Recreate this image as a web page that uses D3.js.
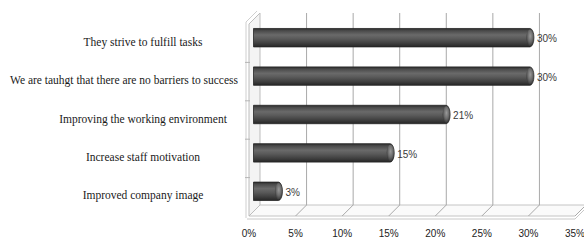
<!DOCTYPE html>
<html>
<head>
<meta charset="utf-8">
<script src="https://cdn.jsdelivr.net/npm/d3@7"></script>
<style>
  body { margin: 0; background: #fff; }
  svg { display: block; }
</style>
</head>
<body>
<div id="chart"></div>
<script>
const categories = [
  'They strive to fulfill tasks',
  'We are tauhgt that there are no barriers to success',
  'Improving the working environment',
  'Increase staff motivation',
  'Improved company image'
];

const values = [30, 30, 21, 15, 3];

const tickValues = [0, 5, 10, 15, 20, 25, 30, 35];

const width = 584, height = 241;
const depth = { dx: 11, dy: -11 }; // back wall offset from front edge

const x = d3.scaleLinear()
  .domain([0, 35])
  .range([249, 575]);

const y = d3.scaleBand()
  .domain(categories)
  .range([24, 216])
  .paddingInner(0.52)
  .paddingOuter(0.26);

const band = d3.scaleBand()
  .domain(categories)
  .range([24, 216]);

const floorY = 216;
const topY = 24;

const svg = d3.select('#chart').append('svg')
  .attr('width', width)
  .attr('height', height);

const defs = svg.append('defs');

const bodyGrad = defs.append('linearGradient')
  .attr('id', 'cyl')
  .attr('x1', 0).attr('y1', 0).attr('x2', 0).attr('y2', 1);
[[0, '#2b2b2b'], [0.12, '#4a4a4a'], [0.35, '#6a6a6a'], [0.55, '#5a5a5a'], [0.8, '#3f3f3f'], [1, '#262626']]
  .forEach(([o, c]) => bodyGrad.append('stop').attr('offset', o).attr('stop-color', c));

const capGrad = defs.append('radialGradient')
  .attr('id', 'cap')
  .attr('cx', 0.55).attr('cy', 0.4).attr('r', 0.6);
[[0, '#9a9a9a'], [0.6, '#6a6a6a'], [1, '#3a3a3a']]
  .forEach(([o, c]) => capGrad.append('stop').attr('offset', o).attr('stop-color', c));

const grid = svg.append('g').attr('class', 'walls');

// floor slab
const x0 = x(0), x1 = x(35);
grid.append('path')
  .attr('d', `M${x0},${floorY} L${x1},${floorY} L${x1 + depth.dx},${floorY + depth.dy} L${x0 + depth.dx},${floorY + depth.dy} Z`)
  .attr('fill', '#fafafa')
  .attr('stroke', '#c4c4c4');
grid.append('path')
  .attr('d', `M${x0 - 2},${floorY + 3} L${x1},${floorY + 3} L${x1 + depth.dx},${floorY + depth.dy + 3}`)
  .attr('fill', 'none')
  .attr('stroke', '#c8c8c8');

// left wall with thickness
grid.append('path')
  .attr('d', `M${x0},${floorY} L${x0},${topY} L${x0 + depth.dx},${topY + depth.dy} L${x0 + depth.dx},${floorY + depth.dy} Z`)
  .attr('fill', '#f4f4f4')
  .attr('stroke', '#bdbdbd');
grid.append('path')
  .attr('d', `M${x0 - 3},${floorY + 2} L${x0 - 3},${topY - 2} L${x0 + depth.dx - 3},${topY + depth.dy - 2}`)
  .attr('fill', 'none')
  .attr('stroke', '#cfcfcf');

// gridlines on back wall and floor
grid.selectAll('.gridline')
  .data(tickValues.slice(1))
  .join('path')
  .attr('class', 'gridline')
  .attr('d', v => `M${x(v)},${floorY} L${x(v) + depth.dx},${floorY + depth.dy} L${x(v) + depth.dx},${topY + depth.dy}`)
  .attr('fill', 'none')
  .attr('stroke', '#a9a9a9');

// category ticks on left wall
grid.selectAll('.cattick')
  .data(categories.slice(1))
  .join('line')
  .attr('class', 'cattick')
  .attr('x1', x0 - 4).attr('x2', x0 + 1)
  .attr('y1', d => band(d)).attr('y2', d => band(d))
  .attr('stroke', '#b5b5b5');

// bars (cylinders at mid depth)
const mid = { dx: depth.dx / 2, dy: depth.dy / 2 };
const bars = svg.append('g').attr('class', 'bars')
  .selectAll('g')
  .data(categories.map((c, i) => ({ c, v: values[i] })))
  .join('g')
  .attr('transform', d => `translate(${mid.dx},${y(d.c) + mid.dy})`);

const h = y.bandwidth();
const capR = 4;

bars.append('path')
  .attr('d', d => {
    const e = x(d.v) - capR;
    return `M${x0 - 1},0 L${e},0 A${capR},${h / 2} 0 0 1 ${e},${h} L${x0 - 1},${h} Z`;
  })
  .attr('fill', 'url(#cyl)')
  .attr('stroke', '#262626')
  .attr('stroke-width', 0.8);

bars.append('ellipse')
  .attr('cx', d => x(d.v) - capR)
  .attr('cy', h / 2)
  .attr('rx', capR - 0.5)
  .attr('ry', h / 2 - 1)
  .attr('fill', 'url(#cap)');

bars.append('text')
  .attr('x', d => x(d.v) + 3)
  .attr('y', h / 2 + 2)
  .attr('dominant-baseline', 'middle')
  .attr('font-family', '"Liberation Sans Narrow", "Liberation Sans", Arial, sans-serif')
  .attr('font-size', 10)
  .attr('fill', '#3a3a3a')
  .text(d => d.v + '%');

// category labels, centred but kept clear of the left wall
const labelX = 143, labelMaxRight = 238;
const labels = svg.append('g').attr('class', 'labels')
  .selectAll('text')
  .data(categories)
  .join('text')
  .attr('x', labelX)
  .attr('y', d => band(d) + band.bandwidth() / 2)
  .attr('text-anchor', 'middle')
  .attr('dominant-baseline', 'middle')
  .attr('font-family', '"Liberation Serif", "Times New Roman", serif')
  .attr('font-size', 11.5)
  .attr('fill', '#1a1a1a')
  .text(d => d);

labels.each(function () {
  const w = this.getComputedTextLength();
  const right = labelX + w / 2;
  if (right > labelMaxRight) d3.select(this).attr('x', labelX - (right - labelMaxRight));
});

// x tick labels
svg.append('g').attr('class', 'ticks')
  .selectAll('text')
  .data(tickValues)
  .join('text')
  .attr('x', v => x(v))
  .attr('y', 234)
  .attr('text-anchor', 'middle')
  .attr('dominant-baseline', 'middle')
  .attr('font-family', '"Liberation Sans Narrow", "Liberation Sans", Arial, sans-serif')
  .attr('font-size', 10)
  .attr('fill', '#222')
  .text(v => v + '%');
</script>
</body>
</html>
